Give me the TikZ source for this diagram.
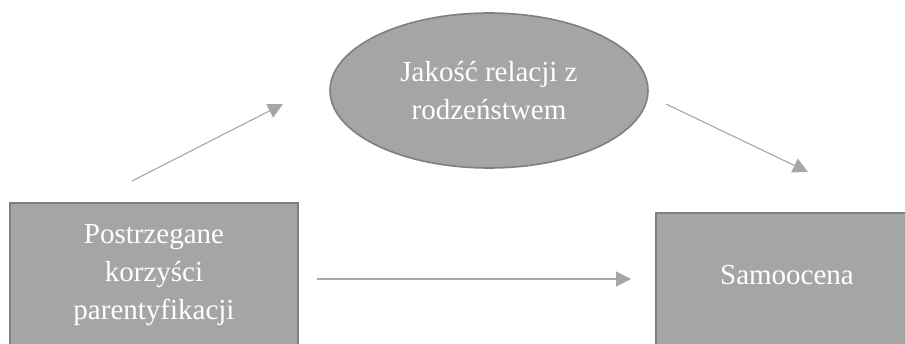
\documentclass[tikz,border=0pt]{standalone}
\usepackage{fontspec}
\setmainfont{Liberation Serif}
\usetikzlibrary{shapes.geometric,arrows.meta}
\definecolor{boxfill}{HTML}{A5A5A5}
\definecolor{boxline}{HTML}{7F7F7F}
\definecolor{arrowgray}{HTML}{A6A6A6}
\tikzset{
  x=1pt, y=-1pt,
  label text/.style={text=white, font=\fontsize{29}{38}\selectfont, align=center},
  varbox/.style={rectangle, draw=boxline, fill=boxfill, line width=2pt, inner sep=0pt, label text},
  varoval/.style={ellipse, draw=boxline, fill=boxfill, line width=1.6pt, inner sep=0pt, label text},
  path arrow/.style={draw=arrowgray, line width=1.1pt, -{Triangle[length=15pt,width=15pt]}}
}
\begin{document}
\begin{tikzpicture}
\useasboundingbox (0,0) rectangle (905,343);
\clip (0,0) rectangle (905,343);

% variables of the mediation model
\node[varbox, minimum width=288pt, minimum height=144pt] (pred) at (154,275)
  {Postrzegane\\korzyści\\parentyfikacji};
\node[varoval, minimum width=318pt, minimum height=155pt] (med) at (489,90.5)
  {Jakość relacji z\\rodzeństwem};
\node[varbox, minimum width=262pt, minimum height=140pt] (out) at (787,283)
  {\raisebox{16pt}{Samoocena}};

% free ends of the paths
\coordinate (a1s) at (132,181);
\coordinate (a1e) at (283,104);
\coordinate (a2s) at (666,104);
\coordinate (a2e) at (808,172);
\coordinate (a3s) at (317,279);
\coordinate (a3e) at (631,279);

\draw[path arrow] (a1s) -- (a1e);
\draw[path arrow] (a2s) -- (a2e);
\draw[path arrow] (a3s) -- (a3e);
\end{tikzpicture}
\end{document}
